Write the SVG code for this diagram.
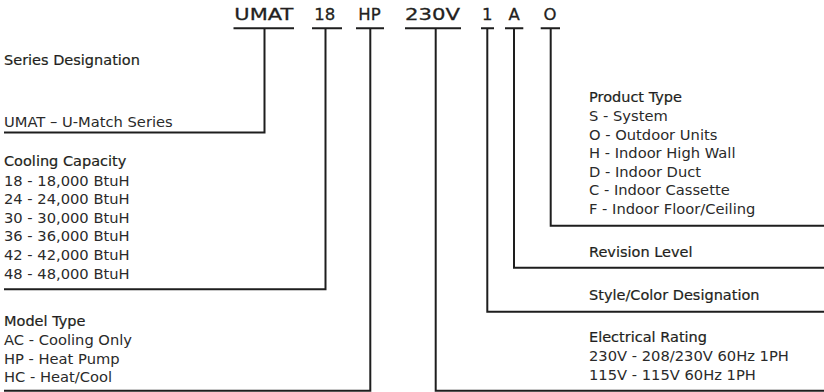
<svg xmlns="http://www.w3.org/2000/svg" width="824" height="392" viewBox="0 0 824 392">
<style>
  text { font-family: "DejaVu Sans", "Liberation Sans", sans-serif; fill: #231f20; }
  .code { font-size: 16.5px; stroke: #231f20; stroke-width: 0.3px; text-anchor: middle; }
  .head { font-size: 14.5px; stroke: #231f20; stroke-width: 0.2px; }
  .body { font-size: 14.7px; fill: #2a2a2a; }
  .ln { fill: none; stroke: #1e1e1e; stroke-width: 2; }
</style>
<rect width="824" height="392" fill="#ffffff"/>

<g id="codes">
  <text class="code" x="263.8" y="19.5" textLength="59" lengthAdjust="spacingAndGlyphs">UMAT</text>
  <text class="code" x="324.7" y="19.5">18</text>
  <text class="code" x="369.5" y="19.5">HP</text>
  <text class="code" x="432.5" y="19.5" textLength="55" lengthAdjust="spacingAndGlyphs">230V</text>
  <text class="code" x="487.3" y="19.5">1</text>
  <text class="code" x="514.2" y="19.5">A</text>
  <text class="code" x="550" y="19.5">O</text>
</g>

<g id="connectors">
  <path class="ln" d="M233.5 28.3H294 M264.5 28.3V132.5H4"/>
  <path class="ln" d="M312 28.3H342 M325.5 28.3V289.3H4"/>
  <path class="ln" d="M356 28.3H384 M370.3 28.3V390.7H4"/>
  <path class="ln" d="M405 28.3H461 M435.7 28.3V390.7H824"/>
  <path class="ln" d="M481 28.3H494 M487.3 28.3V311.7H824"/>
  <path class="ln" d="M505 28.3H523.3 M514 28.3V267.7H824"/>
  <path class="ln" d="M540.7 28.3H560 M550.7 28.3V225.7H824"/>
</g>

<g id="series">
  <text class="head" x="4" y="65">Series Designation</text>
  <text class="body" x="4" y="127">UMAT – U-Match Series</text>
</g>

<g id="cooling-capacity">
  <text class="head" x="4" y="166">Cooling Capacity</text>
  <text class="body" x="4" y="185.5">18 - 18,000 BtuH</text>
  <text class="body" x="4" y="204.1">24 - 24,000 BtuH</text>
  <text class="body" x="4" y="222.7">30 - 30,000 BtuH</text>
  <text class="body" x="4" y="241.3">36 - 36,000 BtuH</text>
  <text class="body" x="4" y="259.9">42 - 42,000 BtuH</text>
  <text class="body" x="4" y="278.5">48 - 48,000 BtuH</text>
</g>

<g id="model-type">
  <text class="head" x="4" y="326">Model Type</text>
  <text class="body" x="4" y="345">AC - Cooling Only</text>
  <text class="body" x="4" y="363.5">HP - Heat Pump</text>
  <text class="body" x="4" y="382">HC - Heat/Cool</text>
</g>

<g id="product-type">
  <text class="head" x="589" y="102">Product Type</text>
  <text class="body" x="589" y="121">S - System</text>
  <text class="body" x="589" y="139.5">O - Outdoor Units</text>
  <text class="body" x="589" y="158">H - Indoor High Wall</text>
  <text class="body" x="589" y="176.5">D - Indoor Duct</text>
  <text class="body" x="589" y="195">C - Indoor Cassette</text>
  <text class="body" x="589" y="213.5">F - Indoor Floor/Ceiling</text>
</g>

<g id="revision-level">
  <text class="head" x="589" y="257">Revision Level</text>
</g>

<g id="style-color">
  <text class="head" x="589" y="300">Style/Color Designation</text>
</g>

<g id="electrical-rating">
  <text class="head" x="589" y="342">Electrical Rating</text>
  <text class="body" x="589" y="361">230V - 208/230V 60Hz 1PH</text>
  <text class="body" x="589" y="379.5">115V - 115V 60Hz 1PH</text>
</g>
</svg>
